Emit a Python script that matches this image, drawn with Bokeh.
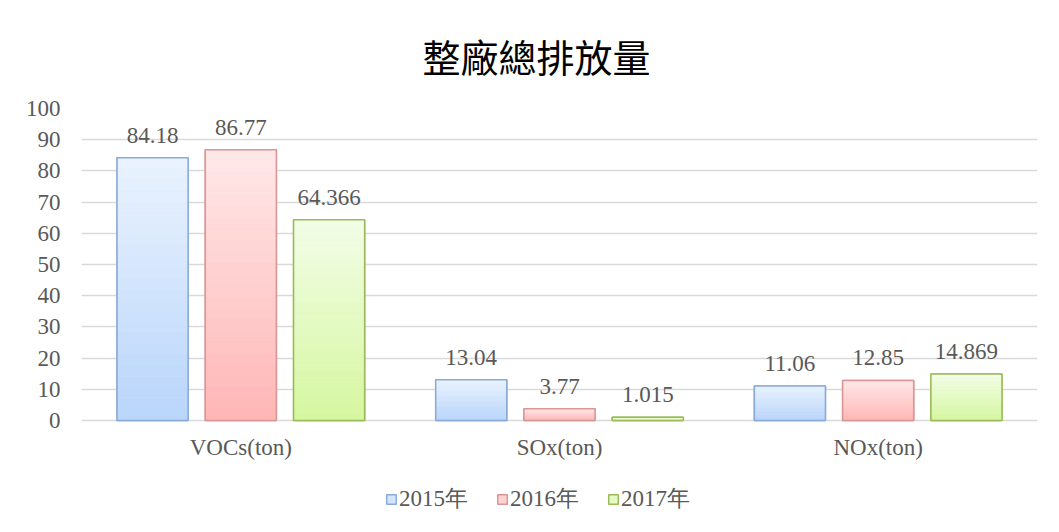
from bokeh.plotting import figure
from bokeh.models import ColumnDataSource, Range1d, FactorRange, Legend, LegendItem, LabelSet
from bokeh.transform import dodge
from bokeh.embed import file_html
from bokeh.resources import INLINE

categories = ["VOCs(ton)", "SOx(ton)", "NOx(ton)"]
years = ["2015年", "2016年", "2017年"]
v2015 = [84.18, 13.04, 11.06]
v2016 = [86.77, 3.77, 12.85]
v2017 = [64.366, 1.015, 14.869]
label2015 = ["84.18", "13.04", "11.06"]
label2016 = ["86.77", "3.77", "12.85"]
label2017 = ["64.366", "1.015", "14.869"]
yticks = [0, 10, 20, 30, 40, 50, 60, 70, 80, 90, 100]

series = [v2015, v2016, v2017]
labels = [label2015, label2016, label2017]
offsets = [-0.277, 0.0, 0.277]
bar_w = 0.223
top_cols = ["#eaf3fe", "#ffe8e8", "#f3fde7"]
bot_cols = ["#b9d5fb", "#ffb6b6", "#d5f7a0"]
mid_cols = ["#d3e5fc", "#ffd2d2", "#e6fac6"]
line_cols = ["#8aabd6", "#d99694", "#9bbb59"]
GRAY = "#595959"
FONT = "Liberation Serif"
FS = "23px"

# frame extends below zero to host category labels and legend (312 px per 100 units)
FRAME_H = 420
YMAX = 100
YMIN = YMAX - YMAX * FRAME_H / 312

p = figure(frame_width=956, frame_height=FRAME_H, x_range=FactorRange(*categories, range_padding=0),
           y_range=Range1d(YMIN, YMAX), output_backend="svg", toolbar_location=None,
           min_border_left=81, min_border_right=22, min_border_top=108, min_border_bottom=4)
p.outline_line_color = None
p.background_fill_color = "white"
p.border_fill_color = "white"

p.title.text = "整廠總排放量"
p.title.align = "left"
p.title.offset = 341
p.title.text_font = "Noto Sans CJK TC"
p.title.text_font_size = "38px"
p.title.text_font_style = "normal"
p.title.text_color = "black"
p.title.standoff = 51


def hx(c):
    return [int(c[i:i + 2], 16) for i in (1, 3, 5)]


N = 24
legend_items = []
for k in range(3):
    vals = series[k]
    src = ColumnDataSource(dict(cat=categories, val=vals, lab=labels[k]))
    base = p.vbar(x=dodge("cat", offsets[k], range=p.x_range), top="val", width=bar_w, source=src,
                  fill_color=mid_cols[k], line_color=line_cols[k], line_width=1.5)
    legend_items.append(LegendItem(label=years[k], renderers=[base]))
    cats, bots, tops, cols = [], [], [], []
    t, b = hx(top_cols[k]), hx(bot_cols[k])
    for j, v in enumerate(vals):
        for i in range(N):
            f = (i + 0.5) / N
            c = [round(b[m] + (t[m] - b[m]) * f) for m in range(3)]
            cats.append(categories[j])
            bots.append(v * i / N)
            tops.append(v * (i + 1) / N)
            cols.append("#%02x%02x%02x" % tuple(c))
    ssrc = ColumnDataSource(dict(cat=cats, b=bots, t=tops, c=cols))
    p.vbar(x=dodge("cat", offsets[k], range=p.x_range), bottom="b", top="t", width=bar_w,
           source=ssrc, fill_color="c", line_color="c", line_width=0.5)
    p.vbar(x=dodge("cat", offsets[k], range=p.x_range), top="val", width=bar_w, source=src,
           fill_alpha=0, line_color=line_cols[k], line_width=1.5)
    p.add_layout(LabelSet(x=dodge("cat", offsets[k], range=p.x_range), y="val", text="lab", source=src,
                          text_align="center", text_baseline="bottom", y_offset=15,
                          text_font=FONT, text_font_size=FS, text_color=GRAY))

# category labels under the zero line
csrc = ColumnDataSource(dict(cat=categories, y0=[0] * len(categories)))
p.add_layout(LabelSet(x="cat", y="y0", text="cat", source=csrc, text_align="center",
                      text_baseline="middle", y_offset=-27, text_font=FONT, text_font_size=FS,
                      text_color=GRAY))

p.xaxis.visible = False
p.xgrid.grid_line_color = None
p.ygrid.ticker = yticks
p.ygrid.grid_line_color = "#d9d9d9"
p.ygrid.grid_line_width = 1.5
p.yaxis.ticker = yticks
p.yaxis.axis_line_color = None
p.yaxis.major_tick_line_color = None
p.yaxis.minor_tick_line_color = None
p.yaxis.major_label_text_font = FONT
p.yaxis.major_label_text_font_size = FS
p.yaxis.major_label_text_color = GRAY
p.yaxis.major_label_standoff = 15

legend = Legend(items=legend_items, orientation="horizontal", location=(304, 14),
                label_text_font=FONT, label_text_font_size=FS, label_text_color=GRAY,
                glyph_width=12, glyph_height=12, label_standoff=2, spacing=28,
                border_line_color=None, background_fill_alpha=0, padding=4, margin=0)
p.add_layout(legend, "center")

open("out.html", "w").write(file_html(p, INLINE))
